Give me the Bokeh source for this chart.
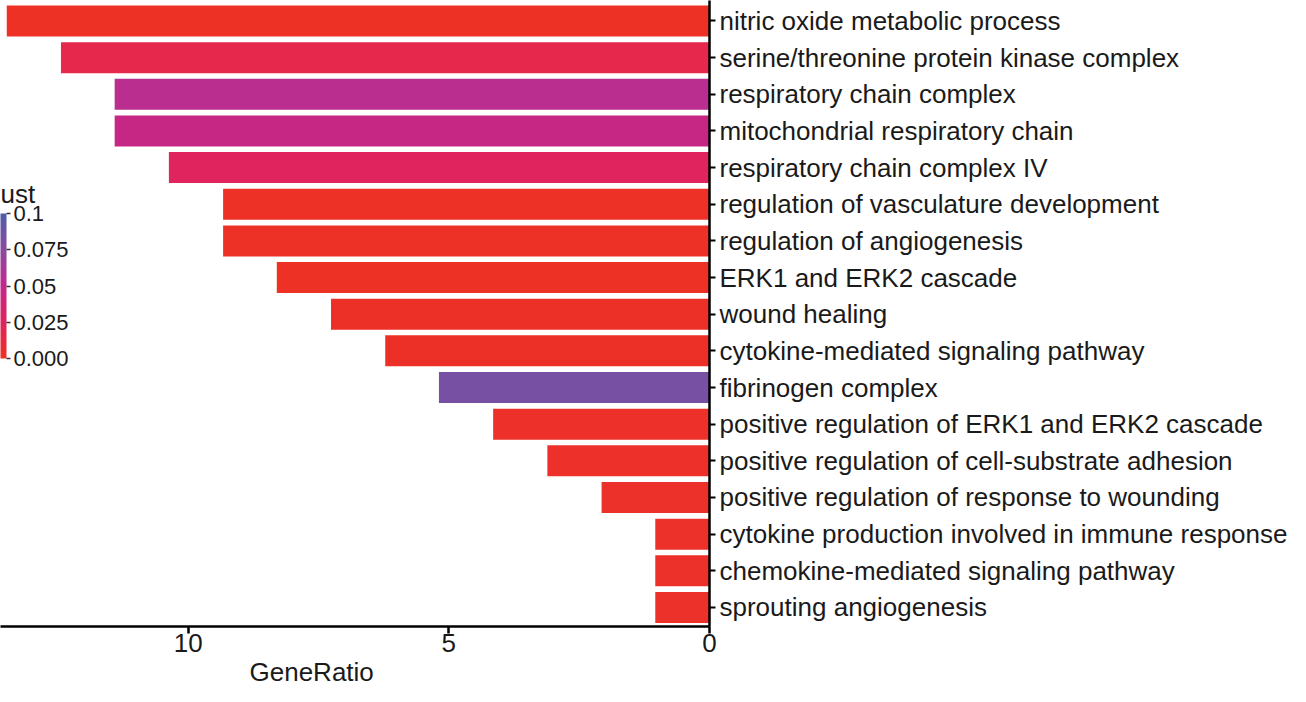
from bokeh.plotting import figure
from bokeh.models import (ColumnDataSource, LinearColorMapper, ColorBar, FixedTicker,
                          Range1d, LinearAxis, Label, Title)
from bokeh.transform import transform
from bokeh.embed import file_html
from bokeh.resources import INLINE

# ---------------- data ----------------
terms = [
    "nitric oxide metabolic process",
    "serine/threonine protein kinase complex",
    "respiratory chain complex",
    "mitochondrial respiratory chain",
    "respiratory chain complex IV",
    "regulation of vasculature development",
    "regulation of angiogenesis",
    "ERK1 and ERK2 cascade",
    "wound healing",
    "cytokine-mediated signaling pathway",
    "fibrinogen complex",
    "positive regulation of ERK1 and ERK2 cascade",
    "positive regulation of cell-substrate adhesion",
    "positive regulation of response to wounding",
    "cytokine production involved in immune response",
    "chemokine-mediated signaling pathway",
    "sprouting angiogenesis",
]
gene_ratio = [13.48, 12.44, 11.41, 11.41, 10.37, 9.33, 9.33, 8.30, 7.26,
              6.22, 5.19, 4.15, 3.11, 2.07, 1.04, 1.04, 1.04]
p_adjust = [0.0004, 0.017, 0.054, 0.046, 0.025, 0.0008, 0.0009, 0.0006, 0.0012,
            0.0015, 0.083, 0.0020, 0.0025, 0.0030, 0.0030, 0.0030, 0.0030]
cbar_ticks = [0.0, 0.025, 0.05, 0.075, 0.1]
cbar_tick_labels = ["0.000", "0.025", "0.05", "0.075", "0.1"]
x_ticks = [0, 5, 10]

# ---------------- palette (red -> magenta -> blue) ----------------
stops = ["#EE3124", "#E0245E", "#C2288C", "#8C4A9F", "#4E5DAA"]


def hex2rgb(h):
    return tuple(int(h[i:i + 2], 16) for i in (1, 3, 5))


palette = []
n = 256
for k in range(n):
    t = k / (n - 1) * (len(stops) - 1)
    i = min(int(t), len(stops) - 2)
    f = t - i
    a, b = hex2rgb(stops[i]), hex2rgb(stops[i + 1])
    c = tuple(round(a[j] + (b[j] - a[j]) * f) for j in range(3))
    palette.append("#%02X%02X%02X" % c)

mapper = LinearColorMapper(palette=palette, low=0.0, high=0.1)

pos = list(range(1, len(terms) + 1))
src = ColumnDataSource(dict(term=terms, ratio=gene_ratio, padj=p_adjust, pos=pos))

FONT = "Liberation Sans"
TXT = "#1A1A1A"
FRAME_BOTTOM = 626  # frame bottom (px from top), used for overlay placement

p = figure(width=1290, height=686, output_backend="svg", toolbar_location=None,
           x_range=Range1d(start=13.6, end=0),
           y_range=Range1d(start=len(terms) + 0.52, end=0.441),
           x_axis_location=None, y_axis_location=None,
           min_border_left=0, min_border_top=0, min_border_right=0,
           min_border_bottom=0)
p.outline_line_color = None
p.xgrid.visible = False
p.ygrid.visible = False
p.background_fill_color = "white"

p.hbar(y="pos", left="ratio", right=0, height=0.846, source=src,
       fill_color=transform("padj", mapper), line_color=None)

# bottom axis
xa = LinearAxis(ticker=FixedTicker(ticks=x_ticks))
xa.axis_line_width = 2.5
xa.axis_line_color = "black"
xa.major_tick_line_width = 2.5
xa.major_tick_line_color = "black"
xa.major_tick_out = 7
xa.major_tick_in = 0
xa.minor_tick_line_color = None
xa.major_label_standoff = 0
xa.major_label_text_font = FONT
xa.major_label_text_font_size = "26px"
xa.major_label_text_color = TXT
p.add_layout(xa, "below")

# x axis title (left-shifted like the source)
p.add_layout(Title(text="GeneRatio", align="left", offset=249, standoff=0,
                   text_font=FONT, text_font_size="26px", text_font_style="normal",
                   text_color=TXT), "below")

# right axis with term labels
ya = LinearAxis(ticker=FixedTicker(ticks=pos),
                major_label_overrides={i: t for i, t in zip(pos, terms)})
ya.axis_line_width = 2.5
ya.axis_line_color = "black"
ya.major_tick_line_width = 2
ya.major_tick_line_color = "black"
ya.major_tick_out = 6
ya.major_tick_in = 0
ya.minor_tick_line_color = None
ya.major_label_standoff = 4
ya.major_label_text_font = FONT
ya.major_label_text_font_size = "26px"
ya.major_label_text_color = TXT
p.add_layout(ya, "right")

# colour bar (legend), sitting at the left edge like the source
cb = ColorBar(color_mapper=mapper, location=(0, FRAME_BOTTOM - 358), width=6, height=145,
              padding=0, ticker=FixedTicker(ticks=cbar_ticks),
              major_label_overrides={v: s for v, s in zip(cbar_ticks, cbar_tick_labels)},
              major_label_text_font=FONT, major_label_text_font_size="22px",
              major_label_text_color=TXT, label_standoff=3,
              major_tick_in=0, major_tick_out=4, major_tick_line_color="#333333",
              major_tick_line_width=1.5, bar_line_color=None,
              background_fill_alpha=0, border_line_color=None)
p.add_layout(cb, "center")

p.add_layout(Label(x=0, y=FRAME_BOTTOM - 193, x_units="screen", y_units="screen", text="ust",
                   text_font=FONT, text_font_size="26px", text_color=TXT,
                   text_baseline="alphabetic"))

open("out.html", "w").write(file_html(p, INLINE))
